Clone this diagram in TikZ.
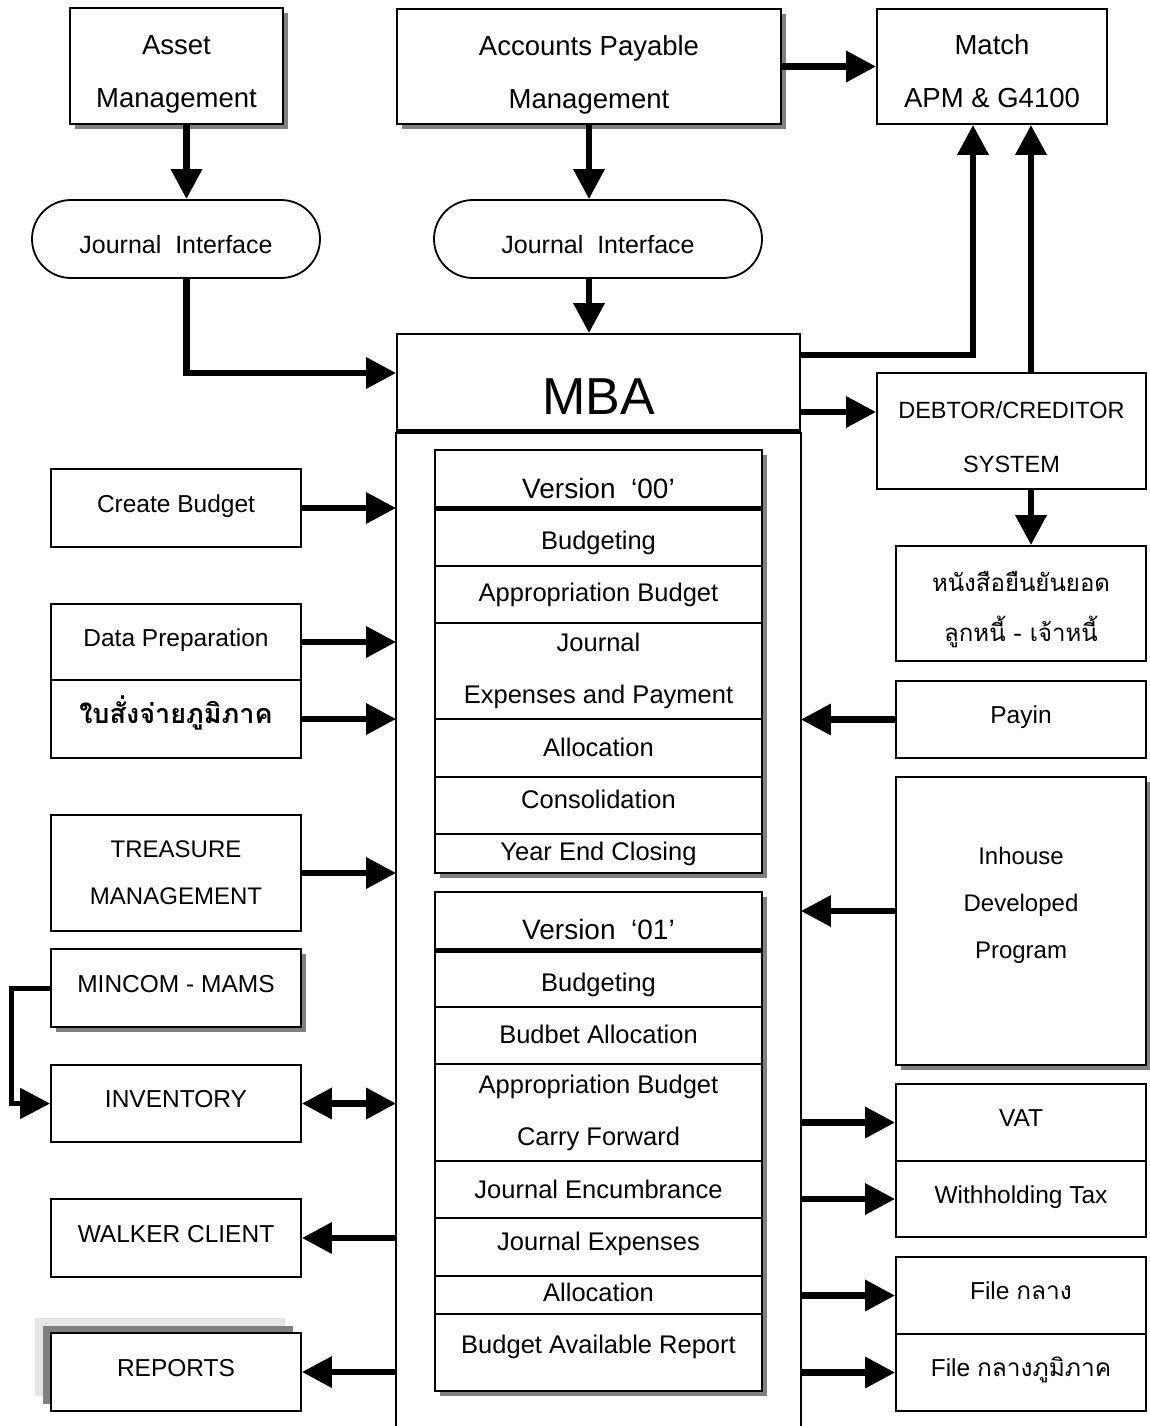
\documentclass[tikz,border=0pt]{standalone}
\usepackage{fontspec}
\setmainfont{Liberation Sans}
\newfontfamily\thai[Script=Thai]{Loma}
\usetikzlibrary{arrows.meta,shadows}
\newcommand\fsz[2]{\fontsize{#1}{#2}\selectfont}
\begin{document}
\begin{tikzpicture}[x=1pt,y=-1pt,
 box/.style={draw=black,line width=1.8pt,fill=white,inner sep=0pt,align=center,font=\fsz{24.5}{52}},
 txt/.style={inner sep=0pt,align=center},
 shad/.style={general shadow={fill=black!50,shadow xshift=5pt,shadow yshift=-5pt}},
 up5/.style={text height=18pt,text depth=10pt},
 row/.style={draw=black,line width=1.6pt,inner sep=0pt,align=center,minimum width=327pt,font=\fsz{25.5}{52}},
 th/.style 2 args={text height=#1pt,text depth=#2pt},
 frame/.style={draw=black,line width=1.8pt,fill=white,inner sep=0pt,minimum width=327pt},
 arr/.style={line width=6.5pt,-{Triangle[length=30pt,width=30pt]}},
 colline/.style={line width=2pt}
]
\useasboundingbox (0,0) rectangle (1149,1426);
\coordinate (bot) at (0,1426);

% top row
\node[box,shad,minimum width=213pt,minimum height=116pt] (asset) at (176.5,66) {};
\node[txt,font=\fsz{27.5}{53}] (asset-t) at ([yshift=-8pt]asset.center) {Asset\\Management};
\node[box,shad,minimum width=384pt,minimum height=115pt] (ap) at (589,66.5) {};
\node[txt,font=\fsz{27.5}{53}] (ap-t) at ([yshift=-8pt]ap.center) {Accounts Payable\\Management};
\node[box,minimum width=230pt,minimum height=115pt] (match) at (992,66.5) {};
\node[txt,font=\fsz{27.5}{53}] (match-t) at ([yshift=-5pt]match.center) {Match\\APM \& G4100};
\node[box,rounded corners=39pt,minimum width=288pt,minimum height=78pt,font=\fsz{25}{30},th={28}{0}] (ji1) at (176,239) {Journal\ \ Interface};
\node[box,rounded corners=39pt,minimum width=328pt,minimum height=78pt,font=\fsz{25}{30},th={28}{0}] (ji2) at (598,239) {Journal\ \ Interface};

% MBA
\node[box,minimum width=403pt,minimum height=97pt,font=\fsz{52}{60},text height=63pt,text depth=0pt] (mba) at (598.5,382.5) {MBA};
\draw[line width=5pt] (mba.south west) -- (mba.south east);
\draw[colline] (mba.south west) -- (mba.south west |- bot);
\draw[colline] (mba.south east) -- (mba.south east |- bot);

% Version 00
\node[frame,shad,minimum height=423pt] (v0) at (598.5,661.5) {};
\node[row,minimum height=58pt,font=\fsz{28}{40},text height=38pt,text depth=0pt] (v0h) at (598.5,479) {Version\ \ ‘00’};
\node[row,minimum height=58pt,th={24}{0}] (v0a) at (598.5,537) {Budgeting};
\node[row,minimum height=57pt,th={18}{5}] (v0b) at (598.5,594.5) {Appropriation Budget};
\node[row,minimum height=96pt] (v0c) at (598.5,671) {Journal\\Expenses and Payment};
\node[row,minimum height=58pt,th={18}{2}] (v0d) at (598.5,748) {Allocation};
\node[row,minimum height=57pt,th={18}{13}] (v0e) at (598.5,805.5) {Consolidation};
\node[row,minimum height=39pt,th={18}{5}] (v0f) at (598.5,853.5) {Year End Closing};
\draw[line width=5pt] (v0h.south west) -- (v0h.south east);

% Version 01
\node[frame,shad,minimum height=499pt] (v1) at (598.5,1141.5) {};
\node[row,minimum height=58pt,font=\fsz{28}{40},text height=36pt,text depth=0pt] (v1h) at (598.5,921) {Version\ \ ‘01’};
\node[row,minimum height=57pt,th={25}{0}] (v1a) at (598.5,978.5) {Budgeting};
\node[row,minimum height=57pt,th={18}{3}] (v1b) at (598.5,1035.5) {Budbet Allocation};
\node[row,minimum height=97pt] (v1c) at (598.5,1112.5) {Appropriation Budget\\Carry Forward};
\node[row,minimum height=57pt,th={18}{0}] (v1d) at (598.5,1189.5) {Journal Encumbrance};
\node[row,minimum height=58pt,th={18}{12}] (v1e) at (598.5,1247) {Journal Expenses};
\node[row,minimum height=38pt,th={18}{6}] (v1f) at (598.5,1295) {Allocation};
\node[row,minimum height=77pt,th={18}{17}] (v1g) at (598.5,1352.5) {Budget Available Report};
\draw[line width=5pt] (v1h.south west) -- (v1h.south east);

% left column
\node[box,up5,minimum width=250pt,minimum height=78pt] (cb) at (176,508) {Create Budget};
\node[box,up5,minimum width=250pt,minimum height=76pt] (dp) at (176,642) {Data Preparation};
\node[box,minimum width=250pt,minimum height=78pt,font=\fsz{27}{40}\thai\bfseries,text height=20pt,text depth=11pt] (bsj) at (176,719) {ใบสั่งจ่ายภูมิภาค};
\node[box,minimum width=250pt,minimum height=116pt,font=\fsz{24}{47}] (tre) at (176,873) {TREASURE\\MANAGEMENT};
\node[box,up5,shad,minimum width=250pt,minimum height=78pt] (minc) at (176,988) {MINCOM - MAMS};
\node[box,up5,minimum width=250pt,minimum height=77pt] (inv) at (176,1103.5) {INVENTORY};
\node[box,up5,minimum width=250pt,minimum height=78pt] (walk) at (176,1238) {WALKER CLIENT};
\node[box,up5,minimum width=250pt,minimum height=78pt,
  general shadow={fill=black!10,shadow xshift=-16pt,shadow yshift=15pt},
  general shadow={fill=black!50,shadow xshift=-8pt,shadow yshift=7pt}] (rep) at (176,1372) {REPORTS};

% right column
\node[box,minimum width=269pt,minimum height=116pt] (debt) at (1011.5,431) {};
\node[txt,font=\fsz{23.5}{54}] (debt-t) at ([yshift=-6pt]debt.center) {DEBTOR/CREDITOR\\SYSTEM};
\node[box,minimum width=250pt,minimum height=115pt] (hn) at (1021,603.5) {};
\node[txt,font=\fsz{24}{50}\thai] (hn-t) at ([yshift=-6pt]hn.center) {หนังสือยืนยันยอด\\ลูกหนี้ - เจ้าหนี้};
\node[box,up5,minimum width=250pt,minimum height=77pt] (payin) at (1021,719.5) {Payin};
\node[box,shad,minimum width=250pt,minimum height=288pt] (inh) at (1021,921) {};
\node[txt,font=\fsz{24}{47}] (inh-t) at (1021,905) {Inhouse\\Developed\\Program};
\node[box,up5,minimum width=250pt,minimum height=77pt] (vat) at (1021,1122.5) {VAT};
\node[box,up5,minimum width=250pt,minimum height=76pt] (wht) at (1021,1199) {Withholding Tax};
\node[box,up5,minimum width=250pt,minimum height=77pt] (f1) at (1021,1295.5) {File {\thai กลาง}};
\node[box,up5,minimum width=250pt,minimum height=77pt] (f2) at (1021,1372.5) {File {\thai กลางภูมิภาค}};

% connectors top
\draw[arr] ([xshift=10pt]asset.south) -- ([xshift=10pt]asset.south |- ji1.north);
\draw[arr,line join=miter] ([xshift=10pt]asset.south |- ji1.south) |- ([yshift=9.5pt]mba.west);
\draw[arr] (ap.south) -- (ap.south |- ji2.north);
\draw[arr] (ap.south |- ji2.south) -- (ap.south |- mba.north);
\draw[arr] (ap.east) -- (match.west);
\draw[arr,line join=miter] ([yshift=27.5pt]mba.east) -| ([xshift=-19pt]match.south);
\draw[arr] ([yshift=-29.5pt]mba.east) -- ([yshift=-29.5pt]mba.east -| debt.west);
\draw[arr] ([xshift=19.5pt]debt.north) -- ([xshift=19.5pt]debt.north |- match.south);
\draw[arr] ([xshift=19.5pt]debt.south) -- ([xshift=19.5pt]debt.south |- hn.north);

% connectors left
\draw[arr] (cb.east) -- (cb.east -| mba.west);
\draw[arr] (dp.east) -- (dp.east -| mba.west);
\draw[arr] (bsj.east) -- (bsj.east -| mba.west);
\draw[arr] (tre.east) -- (tre.east -| mba.west);
\draw[line width=5pt,line join=miter,-{Triangle[length=30pt,width=30pt]}] (minc.west) -- ++(-39,0) |- (inv.west);
\draw[line width=6.5pt,{Triangle[length=30pt,width=30pt]}-{Triangle[length=30pt,width=30pt]}] (inv.east) -- (inv.east -| mba.west);
\draw[arr] (mba.west |- walk.east) -- (walk.east);
\draw[arr] (mba.west |- rep.east) -- (rep.east);

% connectors right
\draw[arr] (payin.west) -- (payin.west -| mba.east);
\draw[arr] ([yshift=10pt]inh.west) -- ([yshift=10pt]inh.west -| mba.east);
\draw[arr] (mba.east |- vat.west) -- (vat.west);
\draw[arr] (mba.east |- wht.west) -- (wht.west);
\draw[arr] (mba.east |- f1.west) -- (f1.west);
\draw[arr] (mba.east |- f2.west) -- (f2.west);
\end{tikzpicture}
\end{document}
